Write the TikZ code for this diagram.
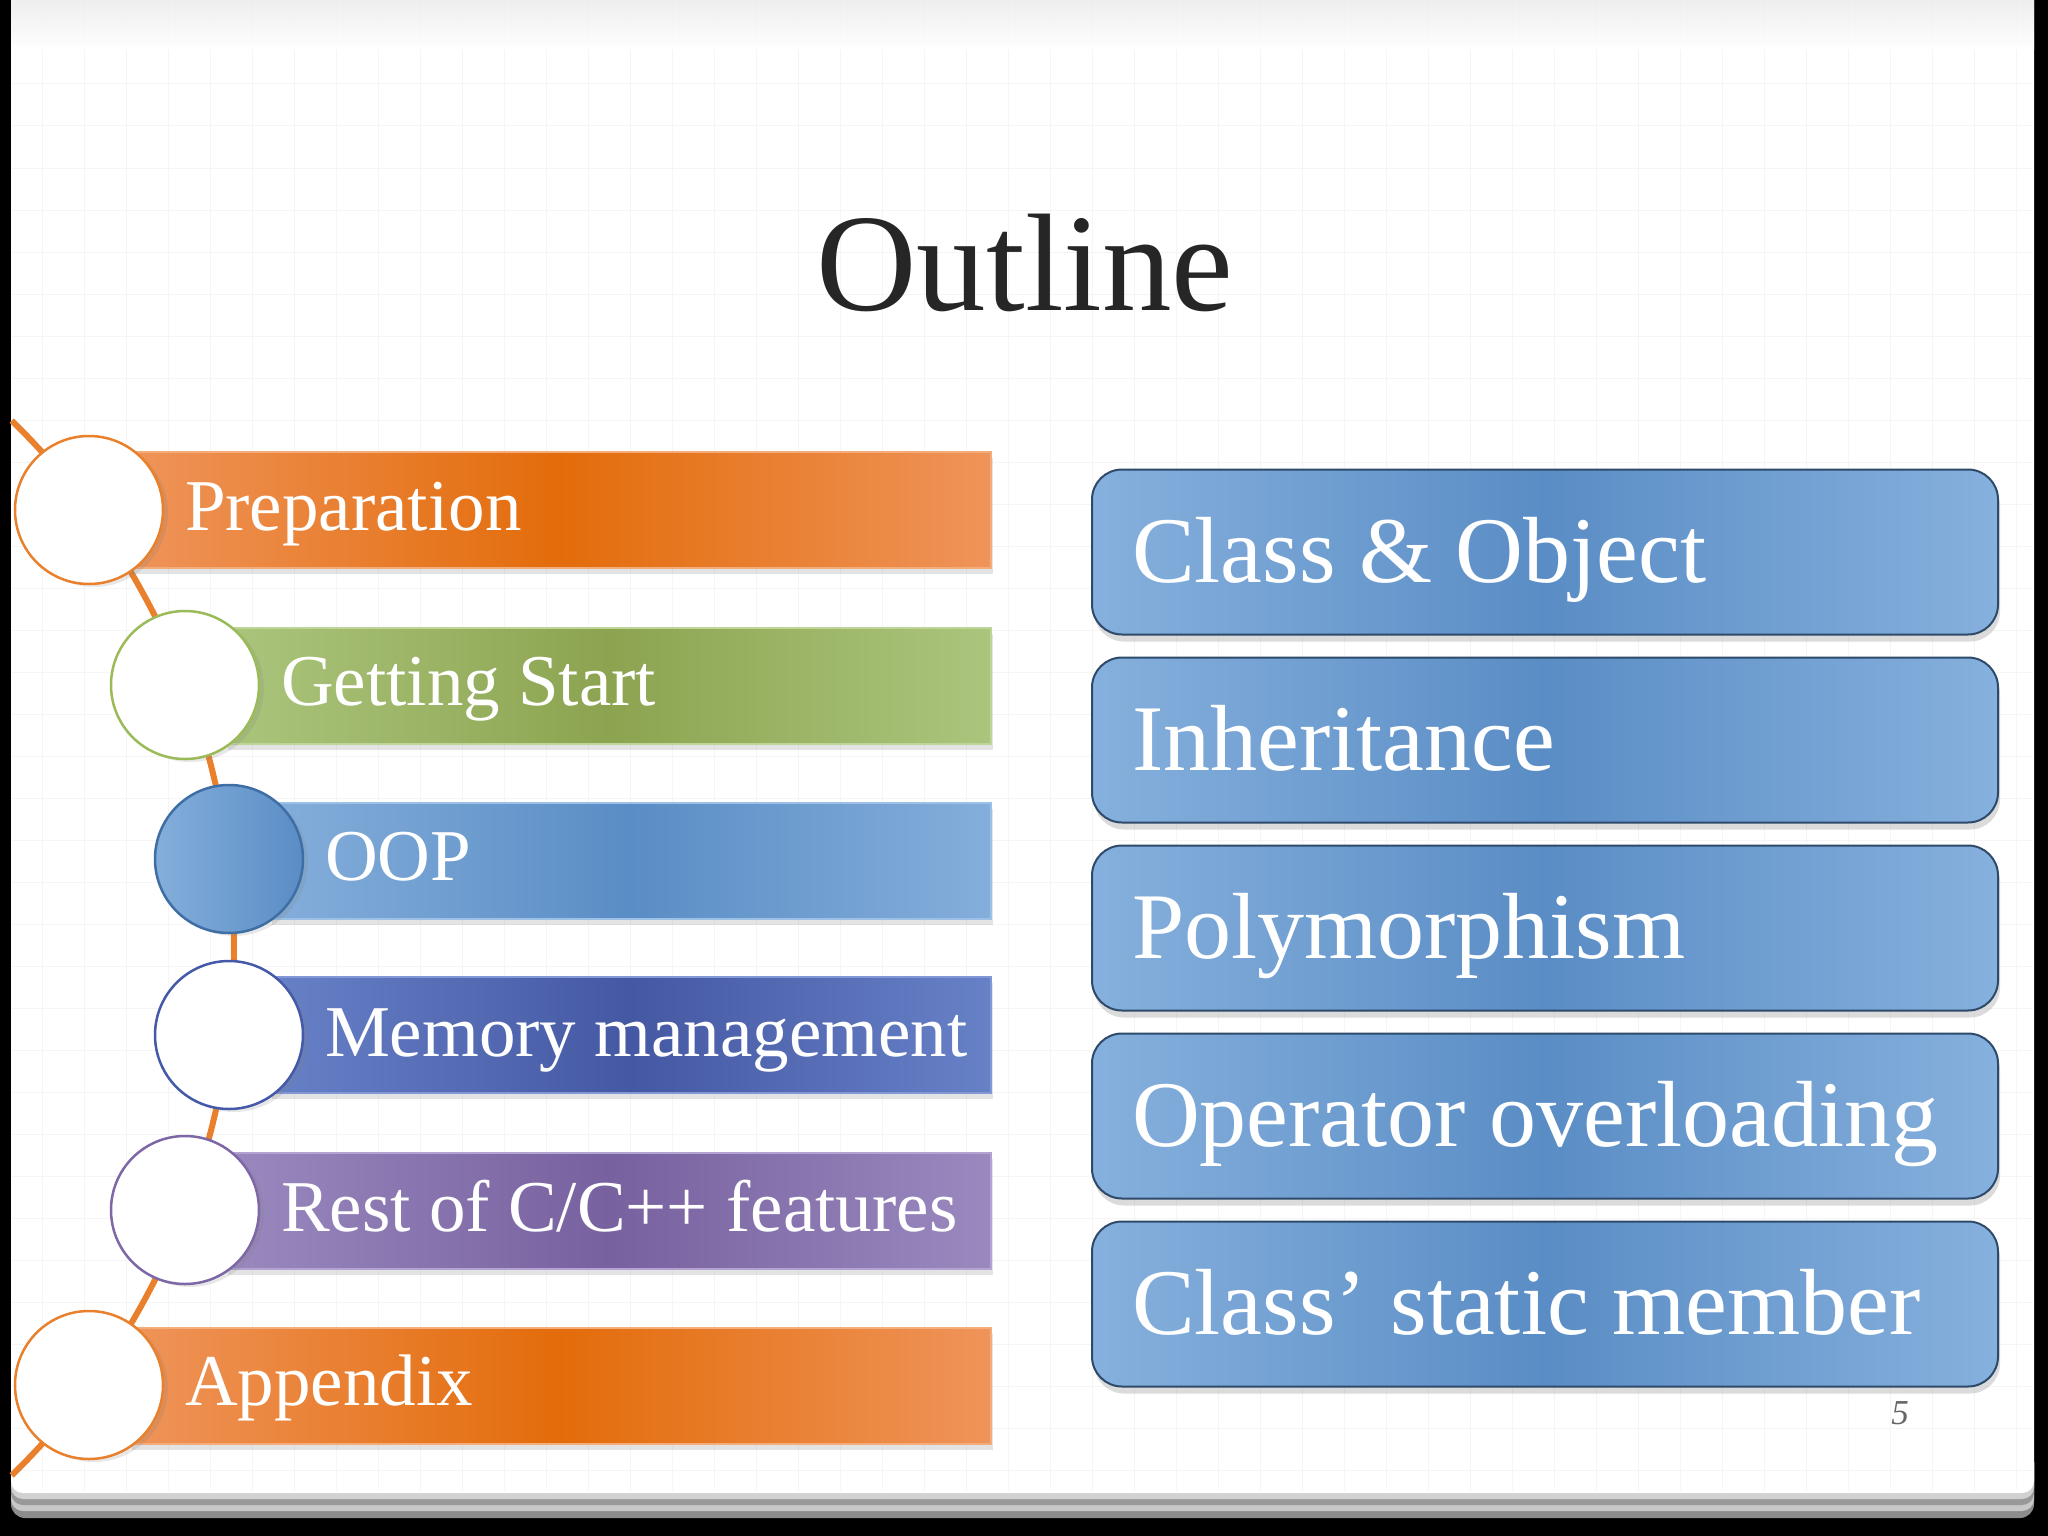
\documentclass[tikz,border=0pt]{standalone}
\usepackage{fontspec}
\setmainfont{Liberation Serif}
\usetikzlibrary{shapes,shadows,calc}

\definecolor{arcorange}{HTML}{E9802C}
\definecolor{orside}{HTML}{EF945A}
\definecolor{ormid}{HTML}{E36C0A}
\definecolor{oredge}{HTML}{F4AC7A}
\definecolor{grside}{HTML}{ABC57D}
\definecolor{grmid}{HTML}{8CA450}
\definecolor{gredge}{HTML}{BFD597}
\definecolor{grring}{HTML}{9BBB59}
\definecolor{blside}{HTML}{84AEDB}
\definecolor{blmid}{HTML}{5A8DC5}
\definecolor{bledge}{HTML}{9CC0E6}
\definecolor{blring}{HTML}{3F6EA5}
\definecolor{mmside}{HTML}{6781C7}
\definecolor{mmmid}{HTML}{4558A3}
\definecolor{mmedge}{HTML}{8197D6}
\definecolor{mmring}{HTML}{4459A8}
\definecolor{puside}{HTML}{9A89BF}
\definecolor{pumid}{HTML}{77619F}
\definecolor{puedge}{HTML}{B2A3D2}
\definecolor{puring}{HTML}{7E67A6}
\definecolor{tabside}{HTML}{86B0DD}
\definecolor{tabmid}{HTML}{5A8DC5}
\definecolor{tabedge}{HTML}{2E4A6A}
\definecolor{titlegray}{HTML}{262626}

\begin{document}
\begin{tikzpicture}[x=1pt, y=-1pt, outer sep=0pt,
  gridline/.style={draw=black!4, line width=1pt},
  arcline/.style={draw=arcorange, line width=6pt},
  bar/.style={rectangle, inner sep=0pt, minimum height=116pt,
    line width=2pt, drop shadow={shadow xshift=2pt, shadow yshift=-6pt, opacity=.22}},
  dot/.style={circle, inner sep=0pt, minimum size=148pt, fill=white, line width=2.5pt,
    drop shadow={shadow xshift=5pt, shadow yshift=-3pt, opacity=.18}},
  tab/.style={rectangle, rounded corners=30pt, inner sep=0pt, minimum width=906pt,
    minimum height=165pt, draw=tabedge, line width=2pt, left color=tabside,
    right color=tabside, middle color=tabmid,
    drop shadow={shadow xshift=2pt, shadow yshift=-7pt, opacity=.28}},
  barlabel/.style={anchor=base west, text=white, inner sep=0pt, font=\fontsize{73}{80}\selectfont},
  tablabel/.style={anchor=base west, text=white, inner sep=0pt, font=\fontsize{94}{100}\selectfont}]

\useasboundingbox (0,0) rectangle (2048,1536);

% slide
\fill[black] (0,0) rectangle (2048,1536);
\fill[rounded corners=14pt, black!45] (11,1450) rectangle (2034,1518);
\fill[rounded corners=12pt, black!22] (11,1450) rectangle (2034,1511);
\fill[rounded corners=12pt, black!40] (11,1450) rectangle (2034,1505);
\fill[rounded corners=12pt, black!18] (11,1450) rectangle (2034,1499);
\fill[rounded corners=12pt, white] (11,-20) rectangle (2034,1493);
\foreach \gx in {42,84,...,2016} \draw[gridline] (\gx,0) -- (\gx,1490);
\foreach \gy in {42,84,...,1470} \draw[gridline] (12,\gy) -- (2033,\gy);
\shade[top color=black!8, bottom color=white, opacity=.8] (11,0) rectangle (2034,50);

\node[anchor=base, text=titlegray, font=\fontsize{139}{150}\selectfont] at (1025,310) (title) {Outline};

\draw[arcline] plot[domain=-45.7:45.7, samples=90] ({-503+737*cos(\x)}, {948+737*sin(\x)});

\node[bar, minimum width=861pt, draw=oredge, left color=orside, right color=orside, middle color=ormid] at (560,510) (prepbar) {};
\node[bar, minimum width=765pt, draw=gredge, left color=grside, right color=grside, middle color=grmid] at (608,686) (startbar) {};
\node[bar, minimum width=721pt, draw=bledge, left color=blside, right color=blside, middle color=blmid] at (630,861) (oopbar) {};
\node[bar, minimum width=721pt, draw=mmedge, left color=mmside, right color=mmside, middle color=mmmid] at (630,1035) (membar) {};
\node[bar, minimum width=765pt, draw=puedge, left color=puside, right color=puside, middle color=pumid] at (608,1211) (restbar) {};
\node[bar, minimum width=861pt, draw=oredge, left color=orside, right color=orside, middle color=ormid] at (560,1386) (appbar) {};

\node[dot, draw=arcorange] at (89,510) (prepdot) {};
\node[dot, draw=grring] at (185,685) (startdot) {};
\node[dot, draw=blring, left color=blside, right color=blmid] at (229,859) (oopdot) {};
\node[dot, draw=mmring] at (229,1035) (memdot) {};
\node[dot, draw=puring] at (185,1210) (restdot) {};
\node[dot, draw=arcorange] at (89,1385) (appdot) {};

\node[barlabel] at (185,530) (preplabel) {Preparation};
\node[barlabel] at (281,705) (startlabel) {Getting Start};
\node[barlabel] at (325,880) (ooplabel) {OOP};
\node[barlabel] at (325,1056) (memlabel) {Memory management};
\node[barlabel] at (281,1231) (restlabel) {Rest of C/C++ features};
\node[barlabel] at (185,1405) (applabel) {Appendix};

\node[tab] at (1545,552) (classtab) {};
\node[tab] at (1545,740) (inhtab) {};
\node[tab] at (1545,928) (polytab) {};
\node[tab] at (1545,1116) (optab) {};
\node[tab] at (1545,1304) (statictab) {};

\node[tablabel] at (1132,582) (classlabel) {Class \& Object};
\node[tablabel] at (1132,770) (inhlabel) {Inheritance};
\node[tablabel] at (1132,958) (polylabel) {Polymorphism};
\node[tablabel] at (1132,1146) (oplabel) {Operator overloading};
\node[tablabel] at (1132,1334) (staticlabel) {Class’ static member};

\node[anchor=base west, text=black!60, font=\itshape\fontsize{35}{40}\selectfont] at (1888,1424) (pagenum) {5};
\end{tikzpicture}
\end{document}
